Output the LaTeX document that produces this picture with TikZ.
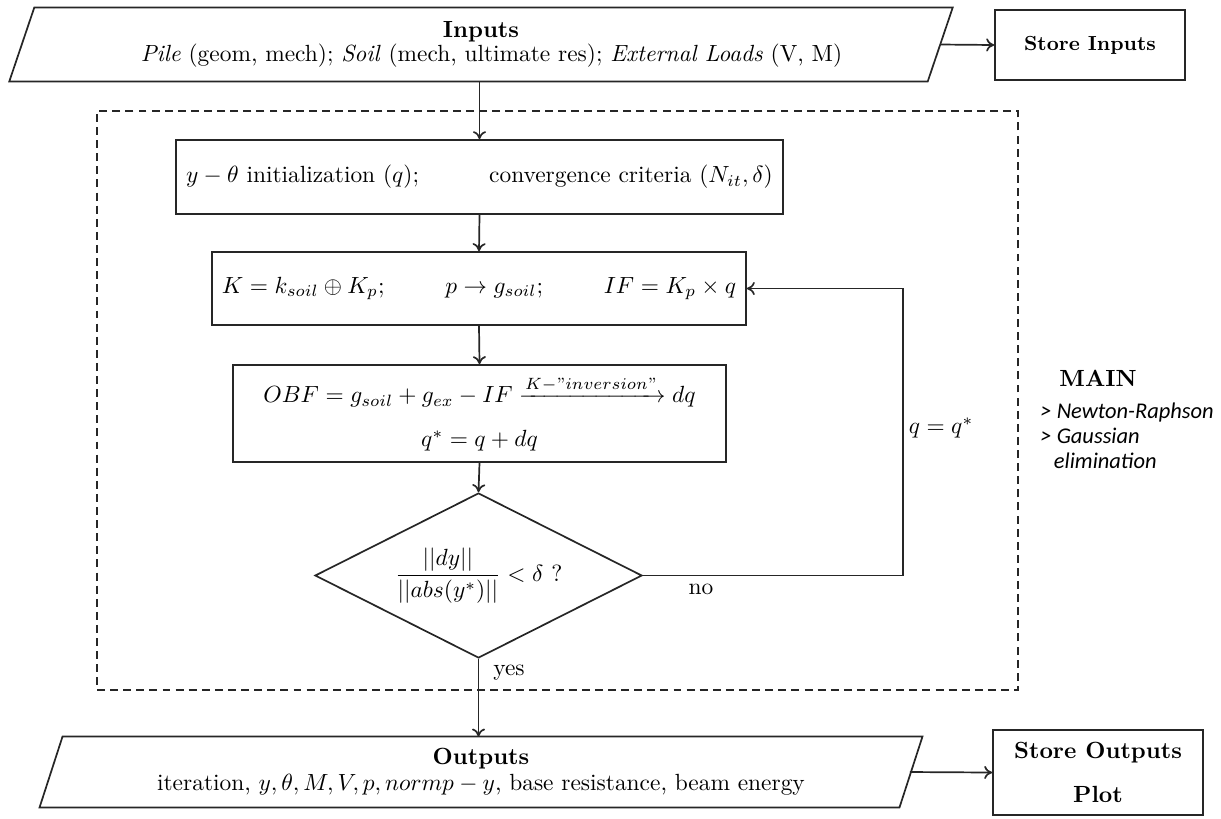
\documentclass[tikz,border=0pt]{standalone}
\usepackage{amsmath}
\usepackage{fontspec}
\newfontfamily\notefont{Carlito}
\usetikzlibrary{shapes.geometric,arrows.meta,calc}
% one drawing unit in points
\newcommand{\pxu}{0.4274pt}

\begin{document}
\begin{tikzpicture}[x=\pxu,y=-\pxu,
  line/.style={line width=0.73pt, draw=black!85},
  box/.style={line, rectangle, inner sep=0pt, align=center},
  holder/.style={rectangle, inner sep=0pt, align=center},
  decision/.style={line, diamond, aspect=1.98, inner sep=0pt, align=center},
  link/.style={line, -{To[length=3.4pt,width=5.6pt]}},
  frame/.style={line, dash pattern=on 3.4pt off 2.2pt, rectangle, inner sep=0pt}]

\useasboundingbox (0,0) rectangle (1221,818);

% loop frame
\node[frame, minimum width=921*\pxu, minimum height=579*\pxu] (main) at (557.5,400.5) {};

% input block (parallelogram drawn around a text holder)
\node[holder, minimum width=917.5*\pxu, minimum height=73*\pxu] (inputs) at (481,44.5)
  {\textbf{Inputs}\\[-1.5pt]
   \hspace*{9pt}\textit{Pile} (geom, mech); \textit{Soil} (mech, ultimate res); \textit{External Loads} (V, M)};
\draw[line] ([xshift=12.5*\pxu]inputs.north west) -- ([xshift=12.5*\pxu]inputs.north east)
  -- ([xshift=-12.5*\pxu]inputs.south east) -- ([xshift=-12.5*\pxu]inputs.south west) -- cycle;

\node[box, minimum width=190*\pxu, minimum height=70*\pxu, font=\fontsize{8.7}{10}\selectfont] (storein) at (1090,45)
  {\textbf{Store Inputs}};

% iteration steps
\node[box, minimum width=607*\pxu, minimum height=74*\pxu] (init) at (479.5,177)
  {$y-\theta$ initialization $(q)$;\hspace{3em}convergence criteria $(N_{it},\delta)$};

\node[box, minimum width=534*\pxu, minimum height=73*\pxu] (stiff) at (479,288.5)
  {$K=k_{soil}\oplus K_p$;\hspace{2.6em}$p\rightarrow g_{soil}$;\hspace{2.6em}$IF=K_p\times q$};

\node[box, minimum width=493*\pxu, minimum height=97*\pxu] (solve) at (479.5,413.5)
  {$OBF=g_{soil}+g_{ex}-IF\xrightarrow{K-\text{''}inversion\text{''}}dq$\\[6.8pt]
   $q^{*}=q+dq$};

\node[decision, minimum width=327*\pxu, minimum height=165*\pxu] (check) at (478.5,575.5)
  {$\dfrac{||dy||}{||abs(y^{*})||}<\delta$ ?};

% output block
\node[holder, minimum width=859*\pxu, minimum height=70*\pxu] (outputs) at (481,772)
  {\textbf{Outputs}\\[-1pt]
   iteration, $y,\theta,M,V,p,normp-y$, base resistance, beam energy};
\draw[line] ([xshift=11.5*\pxu]outputs.north west) -- ([xshift=11.5*\pxu]outputs.north east)
  -- ([xshift=-11.5*\pxu]outputs.south east) -- ([xshift=-11.5*\pxu]outputs.south west) -- cycle;

\node[box, minimum width=210*\pxu, minimum height=85*\pxu] (storeout) at (1098,772.5)
  {\textbf{Store Outputs}\\[6.6pt]\textbf{Plot}};

% side note
\node[holder] (mainlbl) at (1098,378) {\textbf{MAIN}};
\node[holder, anchor=north west, align=left, font=\notefont\itshape\fontsize{9.6}{10.8}\selectfont]
  (method) at (1040,402) {> Newton-Raphson\\> Gaussian\\\hspace*{0.6em}elimination};

% connectors
\coordinate (loopx) at (903,0);
\draw[link] (inputs.east) -- (storein.west);
\draw[link] (inputs.south -| init.north) -- (init.north);
\draw[link] (init.south) -- (stiff.north);
\draw[link] (stiff.south) -- (solve.north);
\draw[link] (solve.south) -- (check.north);
\draw[link] (check.east) -- (check.east -| loopx) |- (stiff.east);
\draw[link] (check.south) -- (check.south |- outputs.north);
\draw[link] ([xshift=-1*\pxu]outputs.east) -- (storeout.west);

% branch labels
\node[holder] (nolbl) at (701,589) {no};
\node[holder] (yeslbl) at (509,673) {yes};
\node[holder] (update) at (941,428) {$q=q^{*}$};

\end{tikzpicture}
\end{document}
